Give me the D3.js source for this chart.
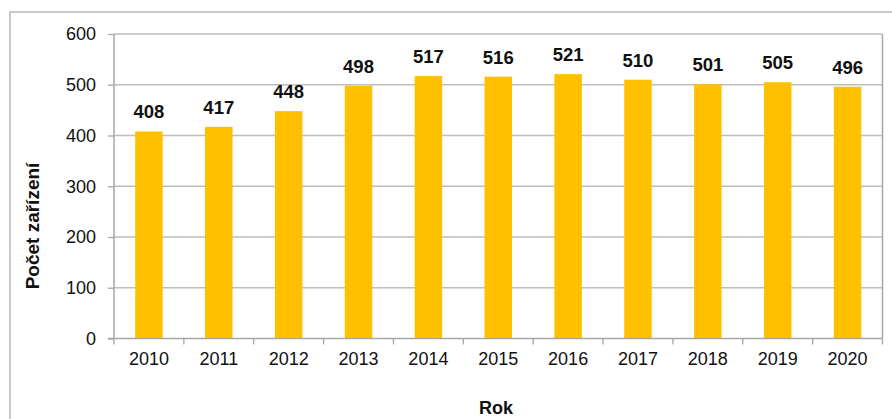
<!DOCTYPE html>
<html><head><meta charset="utf-8">
<script src="https://cdn.jsdelivr.net/npm/d3@7"></script>
<style>body{margin:0;background:#fff;}svg{display:block;font-family:Arial,"Liberation Sans",sans-serif;}</style>
</head><body>
<script>
const years = ["2010","2011","2012","2013","2014","2015","2016","2017","2018","2019","2020"];
const values = [408,417,448,498,517,516,521,510,501,505,496];
const yTicks = [0,100,200,300,400,500,600];
const yTitle = "Počet zařízení";
const xTitle = "Rok";

const W = 892, H = 419;
const svg = d3.select("body").append("svg").attr("width", W).attr("height", H);

// outer chart border
svg.append("rect").attr("x", 10).attr("y", 12).attr("width", 900).attr("height", 450)
  .attr("fill", "none").attr("stroke", "#c4c4c4").attr("stroke-width", 1.8);

const L = 114, R = 882.5, T = 34, B = 338.5;
const xb = d3.scaleBand().domain(years).range([L, R]);
const y = d3.scaleLinear().domain([0, 600]).range([B, T]);

// gridlines
svg.append("g").selectAll("line").data(yTicks.filter(d => d > 0)).join("line")
  .attr("x1", L).attr("x2", R).attr("y1", d => y(d)).attr("y2", d => y(d))
  .attr("stroke", "#bdbdbd").attr("stroke-width", 1.3);
// right frame
svg.append("line").attr("x1", R).attr("x2", R).attr("y1", T).attr("y2", B)
  .attr("stroke", "#a6a6a6").attr("stroke-width", 1.5);

// bars
svg.append("g").selectAll("rect").data(values).join("rect")
  .attr("x", (d, i) => xb(years[i]) + xb.bandwidth() / 2 - 13.75)
  .attr("width", 27.5)
  .attr("y", d => y(d)).attr("height", d => B - y(d))
  .attr("fill", "#FFC000");

// value labels
svg.append("g").selectAll("text").data(values).join("text")
  .attr("x", (d, i) => xb(years[i]) + xb.bandwidth() / 2)
  .attr("y", d => y(d) - 13)
  .attr("text-anchor", "middle").attr("font-weight", "bold").attr("font-size", 18.5)
  .attr("fill", "#111").text(d => d);

// y axis
const yAxis = svg.append("g").attr("transform", `translate(${L},0)`)
  .call(d3.axisLeft(y).tickValues(yTicks).tickSize(6).tickPadding(12));
yAxis.select(".domain").attr("stroke", "#a6a6a6").attr("stroke-width", 1.5).attr("d", `M-0,${T}V${B}`);
yAxis.selectAll(".tick line").attr("stroke", "#a6a6a6").attr("stroke-width", 1.3);
yAxis.selectAll(".tick text").attr("font-size", 18).attr("fill", "#111").attr("font-family", "Arial, 'Liberation Sans', sans-serif");

// x axis
const xAxis = svg.append("g").attr("transform", `translate(0,${B})`)
  .call(d3.axisBottom(xb).tickSize(0).tickPadding(14));
xAxis.select(".domain").attr("stroke", "#a6a6a6").attr("stroke-width", 1.5).attr("d", `M${L - 6},0H${R}`);
xAxis.selectAll(".tick text").attr("font-size", 18).attr("fill", "#111").attr("font-family", "Arial, 'Liberation Sans', sans-serif");
// boundary ticks
const bounds = years.map(d => xb(d)).concat([R]);
svg.append("g").selectAll("line").data(bounds).join("line")
  .attr("x1", d => d).attr("x2", d => d).attr("y1", B).attr("y2", B + 6)
  .attr("stroke", "#a6a6a6").attr("stroke-width", 1.3);

// axis titles
svg.append("text").attr("transform", `translate(39,226) rotate(-90)`)
  .attr("text-anchor", "middle").attr("font-weight", "bold").attr("font-size", 19).attr("fill", "#111")
  .text(yTitle);
svg.append("text").attr("x", 496).attr("y", 414)
  .attr("text-anchor", "middle").attr("font-weight", "bold").attr("font-size", 18).attr("fill", "#111")
  .text(xTitle);
</script>
</body></html>
